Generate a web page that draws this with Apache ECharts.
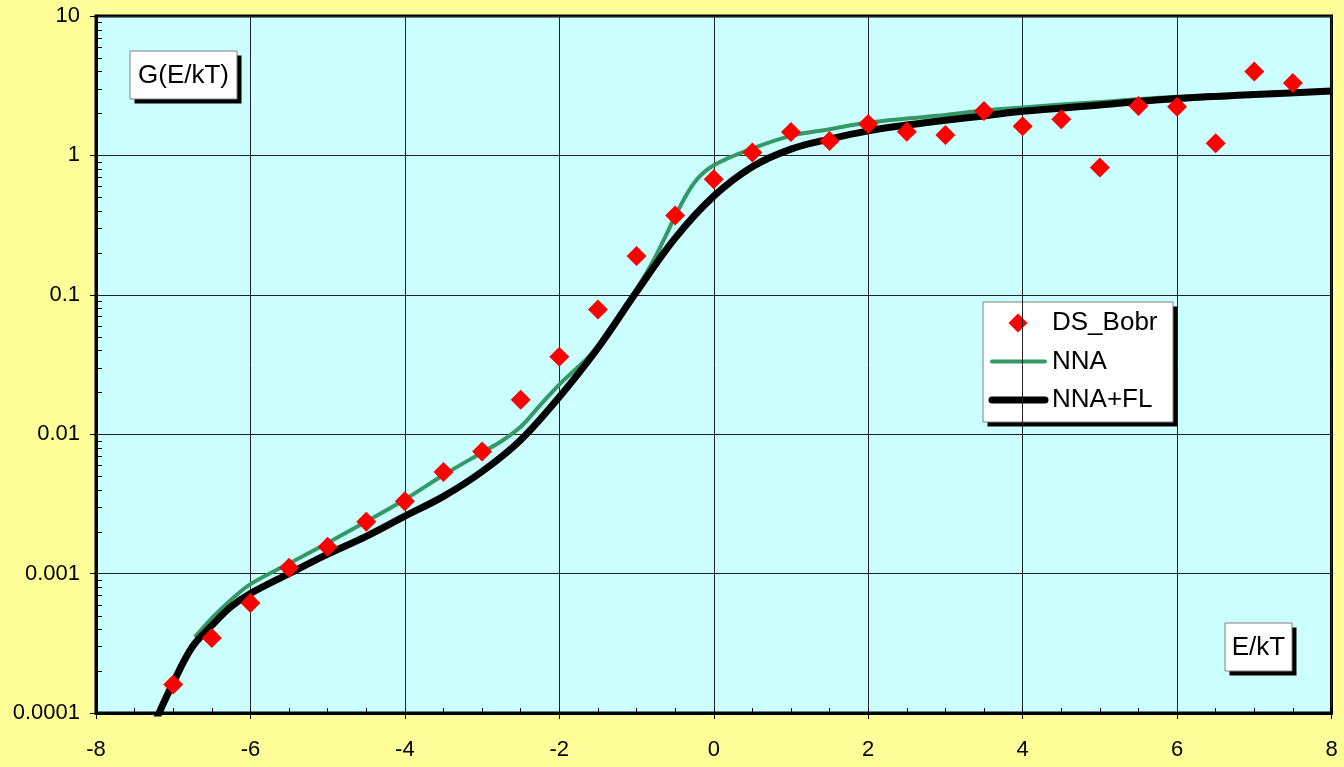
<!DOCTYPE html>
<html>
<head>
<meta charset="utf-8">
<title>G(E/kT)</title>
<script src="https://cdn.jsdelivr.net/npm/echarts@6/dist/echarts.min.js"></script>
<style>
  html, body { margin: 0; padding: 0; background: #FFFF99; }
  #chart { width: 1344px; height: 767px; }
</style>
</head>
<body>
<div id="chart"></div>
<script>
// Measured points (DS_Bobr)
const dsX = [-7, -6.5, -6, -5.5, -5, -4.5, -4, -3.5, -3, -2.5, -2, -1.5, -1, -0.5, 0,
             0.5, 1, 1.5, 2, 2.5, 3, 3.5, 4, 4.5, 5, 5.5, 6, 6.5, 7, 7.5];
const dsY = [1.6e-4, 3.45e-4, 6.15e-4, 1.1e-3, 1.56e-3, 2.35e-3, 3.3e-3, 5.35e-3, 7.5e-3, 0.0177,
             0.036, 0.0785, 0.19, 0.37, 0.675, 1.05, 1.47, 1.27, 1.68, 1.48,
             1.4, 2.08, 1.62, 1.82, 0.82, 2.26, 2.23, 1.22, 4.0, 3.3];

// NNA model curve
const nnaX = [-6.72, -6.5, -6.25, -6, -5.5, -5, -4.5, -4, -3.5, -3, -2.75, -2.5, -2.25, -2, -1.65, -1.5,
              -1.25, -1, -0.9, -0.75, -0.6, -0.5, -0.25, 0, 0.5, 1, 1.5, 2, 2.5, 3, 3.5,
              4, 5, 6, 7, 8];
const nnaY = [3.5e-4, 4.8e-4, 6.5e-4, 8.4e-4, 1.18e-3, 1.66e-3, 2.36e-3, 3.4e-3, 5.1e-3, 7.4e-3,
              8.9e-3, 0.0113, 0.0161, 0.0227, 0.0345, 0.043, 0.066, 0.11, 0.135, 0.19, 0.28, 0.368,
              0.64, 0.85, 1.12, 1.38, 1.54, 1.72, 1.84, 1.95, 2.1,
              2.21, 2.42, 2.63, 2.78, 2.93];

// NNA+FL model curve
const flX = [-7.22, -7, -6.75, -6.5, -6.25, -6, -5.5, -5, -4.5, -4, -3.5, -3, -2.5, -2, -1.5,
             -1, -0.5, 0, 0.5, 1, 1.5, 2, 2.5, 3, 3.5, 4, 5, 6, 7, 8];
const flY = [9.0e-5, 1.65e-4, 3.0e-4, 4.25e-4, 5.8e-4, 7.2e-4, 1.0e-3, 1.38e-3, 1.85e-3, 2.58e-3,
             3.58e-3, 5.4e-3, 9.1e-3, 0.0185, 0.0415, 0.105, 0.255, 0.51, 0.83, 1.11,
             1.31, 1.5, 1.65, 1.79, 1.92, 2.07, 2.3, 2.56, 2.73, 2.9];

// Axis settings and tick labels
const xMin = -8, xMax = 8, xStep = 2, xMinorStep = 0.5;
const yMin = 0.0001, yMax = 10;
const yTickLabels = ['0.0001', '0.001', '0.01', '0.1', '1', '10'];
const yMinorTicks = [];
[1e-4, 1e-3, 1e-2, 1e-1, 1].forEach(function (d) {
  [2, 3, 4, 5, 6, 7, 8, 9].forEach(function (m) { yMinorTicks.push(+(d * m).toPrecision(3)); });
});

// Series names and colours
const names = ['DS_Bobr', 'NNA', 'NNA+FL'];
const RED = '#FF0000', GREEN = '#339966', BLACK = '#000000';

const pair = (xs, ys) => xs.map((x, i) => [x, ys[i]]);
const FONT = '"Liberation Sans", Arial, sans-serif';

// White label box with a hard black drop shadow
function shadowBox(x, y, w, h, children) {
  return {
    type: 'group', x: x, y: y, z: 20,
    children: [
      { type: 'rect', shape: { x: 4.5, y: 4.5, width: w, height: h }, style: { fill: '#000' } },
      { type: 'rect', shape: { x: 0, y: 0, width: w, height: h },
        style: { fill: '#fff', stroke: '#7f7f7f', lineWidth: 1 } }
    ].concat(children || [])
  };
}
function boxText(text, cx, cy) {
  return { type: 'text', x: cx, y: cy,
    style: { text: text, font: '26px ' + FONT, fill: '#000', textAlign: 'center', textVerticalAlign: 'middle' } };
}

// Legend drawn as a framed block
const legendRowY = [21, 59.5, 98];
const legendItems = [
  { type: 'polygon', shape: { points: [[35, legendRowY[0] - 9.5], [44.5, legendRowY[0]], [35, legendRowY[0] + 9.5], [25.5, legendRowY[0]]] },
    style: { fill: RED } },
  { type: 'line', shape: { x1: 9, y1: legendRowY[1], x2: 62, y2: legendRowY[1] },
    style: { stroke: GREEN, lineWidth: 4, lineCap: 'round' } },
  { type: 'line', shape: { x1: 9, y1: legendRowY[2], x2: 62, y2: legendRowY[2] },
    style: { stroke: BLACK, lineWidth: 7, lineCap: 'round' } }
].concat(names.map((n, i) => ({
  type: 'text', x: 69, y: legendRowY[i],
  style: { text: n, font: '26px ' + FONT, fill: '#000', textAlign: 'left', textVerticalAlign: 'middle' }
})));

const chart = echarts.init(document.getElementById('chart'), null, { renderer: 'canvas' });

chart.setOption({
  backgroundColor: '#FFFF99',
  animation: false,
  grid: {
    left: 96, right: 12.5, top: 16, bottom: 54,
    show: true,
    backgroundColor: '#CCFFFF',
    borderColor: '#000',
    borderWidth: 3
  },
  graphic: [
    shadowBox(130, 51, 107, 48, [boxText('G(E/kT)', 53.5, 25)]),
    shadowBox(1225, 623, 67, 48, [boxText('E/kT', 33.5, 25)]),
    shadowBox(983, 302, 190, 120, legendItems)
  ],
  xAxis: [{
    type: 'value',
    min: xMin, max: xMax, interval: xStep,
    axisLine: { show: true, onZero: false, lineStyle: { color: '#000', width: 3 } },
    axisTick: { show: true, inside: false, length: 6, lineStyle: { color: '#000', width: 1 } },
    axisLabel: { fontFamily: FONT, fontSize: 22, color: '#000', margin: 26 },
    splitLine: { show: true, lineStyle: { color: '#222', width: 1 } }
  }, {
    // minor ticks pointing into the plot
    type: 'value',
    position: 'bottom',
    min: xMin, max: xMax, interval: xMinorStep,
    axisLine: { show: false },
    axisTick: { show: true, inside: true, length: 5, lineStyle: { color: '#000', width: 1 } },
    axisLabel: { show: false },
    splitLine: { show: false }
  }],
  yAxis: {
    type: 'log',
    logBase: 10,
    min: yMin, max: yMax,
    axisLine: { show: true, onZero: false, lineStyle: { color: '#000', width: 3 } },
    axisTick: { show: true, inside: false, length: 6, lineStyle: { color: '#000', width: 1 } },
    axisLabel: {
      fontFamily: FONT, fontSize: 22, color: '#000', margin: 16,
      formatter: function (v) {
        const i = Math.round(Math.log10(v) - Math.log10(yMin));
        return yTickLabels[i] !== undefined ? yTickLabels[i] : '';
      }
    },
    splitLine: { show: true, lineStyle: { color: '#222', width: 1 } },
    minorTick: { show: false }
  },
  series: [{
    name: names[0],
    type: 'scatter',
    symbol: 'diamond',
    symbolSize: 20,
    itemStyle: { color: RED, opacity: 1 },
    z: 5,
    data: pair(dsX, dsY)
  }, {
    name: names[1],
    type: 'line',
    smooth: 0.35,
    showSymbol: false,
    symbol: 'none',
    clip: true,
    lineStyle: { color: GREEN, width: 4 },
    itemStyle: { color: GREEN },
    z: 3,
    data: pair(nnaX, nnaY)
  }, {
    name: names[2],
    type: 'line',
    smooth: 0.35,
    showSymbol: false,
    symbol: 'none',
    clip: true,
    lineStyle: { color: BLACK, width: 7 },
    itemStyle: { color: BLACK },
    z: 4,
    data: pair(flX, flY)
  }, {
    // logarithmic minor ticks on the value axis
    type: 'custom',
    silent: true,
    z: 6,
    data: yMinorTicks.map(v => [xMin, v]),
    renderItem: function (params, api) {
      const p = api.coord([api.value(0), api.value(1)]);
      return {
        type: 'line',
        shape: { x1: p[0] + 1, y1: Math.round(p[1]) + 0.5, x2: p[0] + 6, y2: Math.round(p[1]) + 0.5 },
        style: { stroke: '#000', lineWidth: 1 }
      };
    }
  }]
});
</script>
</body>
</html>
